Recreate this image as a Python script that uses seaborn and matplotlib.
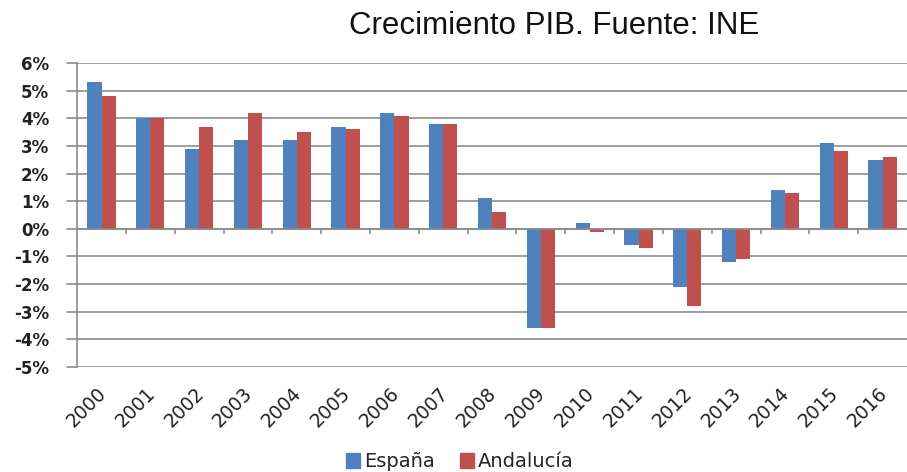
import numpy as np
import pandas as pd
import matplotlib
matplotlib.use("Agg")
import matplotlib.pyplot as plt
import matplotlib.transforms as mtransforms
import seaborn as sns

years = [str(y) for y in range(2000, 2017)]
espana = [5.3, 4.0, 2.9, 3.2, 3.2, 3.7, 4.2, 3.8, 1.1, -3.6, 0.2, -0.6, -2.1, -1.2, 1.4, 3.1, 2.5]
andalucia = [4.8, 4.0, 3.7, 4.2, 3.5, 3.6, 4.1, 3.8, 0.6, -3.6, -0.1, -0.7, -2.8, -1.1, 1.3, 2.8, 2.6]
series_names = ["España", "Andalucía"]
yticks = list(range(-5, 7))

df = pd.DataFrame({
    "year": years * 2,
    "value": espana + andalucia,
    "serie": [series_names[0]] * len(years) + [series_names[1]] * len(years),
})

sns.set_style("white")
plt.rcParams["font.family"] = ["DejaVu Sans"]

fig = plt.figure(figsize=(9.07, 4.72), dpi=100)
ax = fig.add_axes([0.085, 0.2225, 0.915, 0.644])

palette = {"España": "#4F81BD", "Andalucía": "#C0504D"}
sns.barplot(data=df, x="year", y="value", hue="serie", palette=palette,
            width=0.58, dodge=True, saturation=1, ax=ax, legend=True,
            linewidth=0, edgecolor="none")

ax.set_ylim(-5, 6)
ax.set_xlim(-0.5, len(years) - 0.5)
ax.set_yticks(yticks)
ax.set_yticklabels([f"{t}%" for t in yticks], fontsize=12, fontweight="semibold", color="#222222")
ax.yaxis.grid(True, color="#8c8c8c", linewidth=1.2)
ax.set_axisbelow(True)
ax.set_xlabel("")
ax.set_ylabel("")
ax.tick_params(axis="y", length=0, pad=20)
ax.tick_params(axis="x", length=0, pad=12)
plt.setp(ax.get_xticklabels(), rotation=45, ha="right", rotation_mode="anchor",
         fontsize=13.5, color="#222222")
offset = mtransforms.ScaledTranslation(-3.6 / 72, 0, fig.dpi_scale_trans)
for lab in ax.get_xticklabels():
    lab.set_transform(lab.get_transform() + offset)

for s in ["top", "right", "bottom"]:
    ax.spines[s].set_visible(False)
ax.spines["left"].set_color("#8c8c8c")
ax.spines["left"].set_linewidth(1.2)

# zero axis line with category tick marks
ax.axhline(0, color="#8c8c8c", linewidth=1.2, zorder=1)
bounds = np.arange(len(years) - 1) + 0.5
ax.vlines(bounds, -0.2, 0, colors="#8c8c8c", linewidth=1.2)
# left y-axis short ticks
trans2 = mtransforms.blended_transform_factory(ax.transAxes, ax.transData)
for t in yticks:
    ax.plot([-0.012, 0], [t, t], color="#8c8c8c", linewidth=1.2, transform=trans2, clip_on=False)

ax.get_legend().remove()
handles = [plt.Rectangle((0, 0), 1, 1, color=palette[n]) for n in series_names]
fig.legend(handles, series_names, loc="lower center", bbox_to_anchor=(0.507, -0.035),
           ncol=2, frameon=False, handlelength=0.7, handleheight=0.85,
           handletextpad=0.2, columnspacing=1.3, prop={"size": 14})

fig.text(0.611, 0.928, "Crecimiento PIB. Fuente: INE", ha="center", va="baseline",
         fontsize=22.5, family="Liberation Sans", color="#111111")

fig.savefig("out.png", dpi=100)
